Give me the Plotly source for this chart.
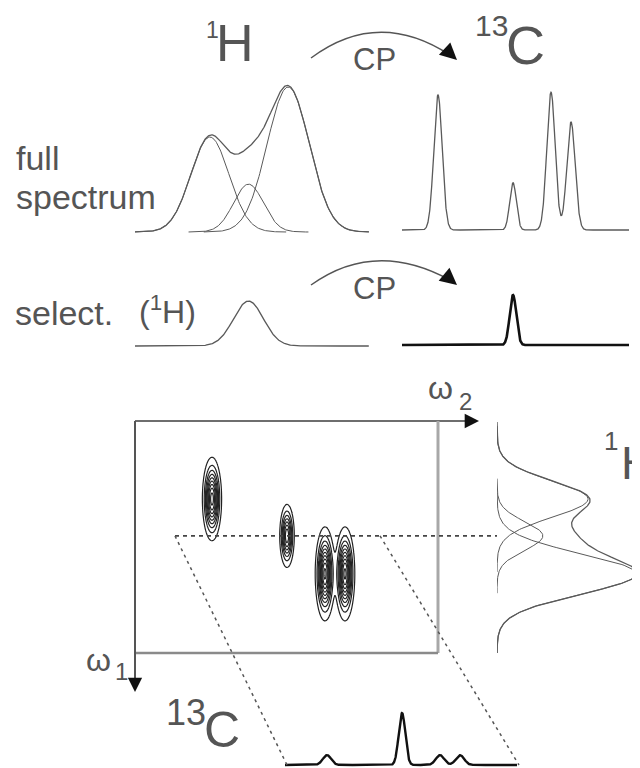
import numpy as np
import plotly.graph_objects as go

# page is 640x768; the html body has an 8px margin, so the figure is placed at (8,8)
PAGE_W, PAGE_H = 640, 768
OFF = 8
FW, FH = PAGE_W - OFF, PAGE_H - OFF

# ---------------- data ----------------
# 1H spectrum: three overlapping lines (arbitrary frequency units)
H_CENTERS = [3.3, 5.0, 6.75]
H_HEIGHTS = [0.655, 0.33, 1.0]
H_SIGMAS = [0.84, 0.66, 0.93]
# 13C spectrum: four lines
C_CENTERS = [3.0, 10.5, 14.3, 16.3]
C_HEIGHTS = [1.0, 0.35, 1.02, 0.80]
C_SIGMAS = [0.42, 0.33, 0.42, 0.42]
# selective experiment: only the 2nd proton line, transferred to the 2nd carbon
SEL_H_INDEX = 1
SEL_H_HEIGHT = 0.31
SEL_C_HEIGHTS = [0.0, 0.37, 0.0, 0.0]
# 2D cross peaks: (13C index, 1H index, amplitude)
CROSS_C = [0, 1, 2, 3]
CROSS_H = [0, 1, 2, 2]
CROSS_AMP = [1.1, 0.9, 1.2, 1.2]
# 13C slice taken at the selected 1H row
SLICE_HEIGHTS = [0.19, 1.0, 0.19, 0.19]


def gauss(x, c, h, s):
    return h * np.exp(-0.5 * ((x - c) / s) ** 2)


def px(x):
    return (x - OFF) / FW


def py(y):
    return 1 - (y - OFF) / FH


def xd(a, b):
    return [px(a), px(b)]


def yd(top, bot):
    return [py(bot), py(top)]


GRAY = "#5a5a5a"
LW = 1.3

fig = go.Figure()

# ---------------- top 1H (full) ----------------
xh = np.linspace(0, 10.3, 500)
h_sum = sum(gauss(xh, c, h, s) for c, h, s in zip(H_CENTERS, H_HEIGHTS, H_SIGMAS))
fig.add_trace(go.Scatter(x=xh, y=h_sum, xaxis="x", yaxis="y", mode="lines",
                         line=dict(color=GRAY, width=LW)))
for c, h, s in zip(H_CENTERS, H_HEIGHTS, H_SIGMAS):
    xx = np.linspace(c - 4 * s, c + 4 * s, 200)
    fig.add_trace(go.Scatter(x=xx, y=gauss(xx, c, h, s), xaxis="x", yaxis="y",
                             mode="lines", line=dict(color=GRAY, width=1.0)))

# ---------------- top 13C (full) ----------------
xc = np.linspace(-0.6, 22.1, 1500)
c_sum = sum(gauss(xc, c, h, s) for c, h, s in zip(C_CENTERS, C_HEIGHTS, C_SIGMAS))
fig.add_trace(go.Scatter(x=xc, y=c_sum, xaxis="x2", yaxis="y2", mode="lines",
                         line=dict(color=GRAY, width=LW)))

# ---------------- selective 1H ----------------
sel_h = gauss(xh, H_CENTERS[SEL_H_INDEX], SEL_H_HEIGHT, H_SIGMAS[SEL_H_INDEX])
fig.add_trace(go.Scatter(x=xh, y=sel_h, xaxis="x", yaxis="y3", mode="lines",
                         line=dict(color=GRAY, width=LW)))

# ---------------- selective 13C ----------------
sel_c = sum(gauss(xc, c, h, s) for c, h, s in zip(C_CENTERS, SEL_C_HEIGHTS, C_SIGMAS))
fig.add_trace(go.Scatter(x=xc, y=sel_c, xaxis="x2", yaxis="y4", mode="lines",
                         line=dict(color="#111", width=2.6)))

# ---------------- 2D contour ----------------
gx = np.linspace(-4.7, 25.6, 400)
gy = np.linspace(-0.3, 10.4, 300)
GX, GY = np.meshgrid(gx, gy)
Z = np.zeros_like(GX)
for ci, hi, a in zip(CROSS_C, CROSS_H, CROSS_AMP):
    Z += a * np.exp(-0.5 * ((GX - C_CENTERS[ci]) / C_SIGMAS[ci]) ** 2
                    - 0.5 * ((GY - H_CENTERS[hi]) / H_SIGMAS[hi]) ** 2)
fig.add_trace(go.Contour(x=gx, y=gy, z=Z, xaxis="x5", yaxis="y5",
                         contours=dict(coloring="lines", start=0.08, end=1.2, size=0.12),
                         colorscale=[[0, "#222"], [1, "#222"]], showscale=False,
                         line=dict(width=1.2)))

# ---------------- 1H projection (rotated) ----------------
yp = np.linspace(-0.25, 10.5, 500)
p_sum = sum(gauss(yp, c, h, s) for c, h, s in zip(H_CENTERS, H_HEIGHTS, H_SIGMAS))
fig.add_trace(go.Scatter(x=p_sum, y=yp, xaxis="x6", yaxis="y5", mode="lines",
                         line=dict(color=GRAY, width=LW)))
for c, h, s in zip(H_CENTERS, H_HEIGHTS, H_SIGMAS):
    yy = np.linspace(c - 4 * s, c + 4 * s, 200)
    fig.add_trace(go.Scatter(x=gauss(yy, c, h, s), y=yy, xaxis="x6", yaxis="y5",
                             mode="lines", line=dict(color=GRAY, width=1.0)))

# ---------------- 13C slice (bottom) ----------------
xs = np.linspace(-1.2, 22.0, 1500)
s_sum = sum(gauss(xs, c, h, s) for c, h, s in zip(C_CENTERS, SLICE_HEIGHTS, C_SIGMAS))
fig.add_trace(go.Scatter(x=xs, y=s_sum, xaxis="x7", yaxis="y7", mode="lines",
                         line=dict(color="#111", width=2.4)))

# ---------------- axes (page-pixel geometry of each panel) ----------------
hid = dict(visible=False, fixedrange=True)
H1_BASE, H1_SCALE = 232, 145
C1_BASE, C1_SCALE = 230, 135
H2_BASE = 346
C2_BASE = 345
ROW0, ROWS = 427.4, 21.7      # 1H axis of 2D plot: pixel = ROW0 + ROWS*u
COL0, COLS = 182, 10          # 13C axis of 2D plot
BOX = (135, 421, 438, 653)    # left, top, right, bottom of the 2D frame
SL_BASE, SL_SCALE = 765, 52
SL0 = 297                     # 13C axis of slice: pixel = SL0 + 10*u
PROJ0, PROJS = 497, 139


def yr(top, bot, base, scale):
    return [-(bot - base) / scale, (base - top) / scale]


fig.update_layout(
    xaxis=dict(domain=xd(135, 369), range=[0, (369 - 135) / 22.7], anchor="y", **hid),
    yaxis=dict(domain=yd(60, 240), range=yr(60, 240, H1_BASE, H1_SCALE), anchor="x", **hid),
    xaxis2=dict(domain=xd(398, 632), range=[(398 - 408) / 10, (632 - 408) / 10], anchor="y2", **hid),
    yaxis2=dict(domain=yd(60, 240), range=yr(60, 240, C1_BASE, C1_SCALE), anchor="x2", **hid),
    yaxis3=dict(domain=yd(280, 356), range=yr(280, 356, H2_BASE, H1_SCALE), anchor="x", **hid),
    yaxis4=dict(domain=yd(280, 356), range=yr(280, 356, C2_BASE, C1_SCALE), anchor="x2", **hid),
    xaxis5=dict(domain=xd(BOX[0], BOX[2]),
                range=[(BOX[0] - COL0) / COLS, (BOX[2] - COL0) / COLS], anchor="y5", **hid),
    yaxis5=dict(domain=yd(BOX[1], BOX[3]),
                range=[(BOX[3] - ROW0) / ROWS, (BOX[1] - ROW0) / ROWS], anchor="x5", **hid),
    xaxis6=dict(domain=xd(PROJ0, 640), range=[0, (640 - PROJ0) / PROJS], anchor="y5", **hid),
    xaxis7=dict(domain=xd(285, 517), range=[(285 - SL0) / 10, (517 - SL0) / 10], anchor="y7", **hid),
    yaxis7=dict(domain=yd(700, 768), range=yr(700, 768, SL_BASE, SL_SCALE), anchor="x7", **hid),
    width=FW, height=FH, margin=dict(l=0, r=0, t=0, b=0),
    paper_bgcolor="white", plot_bgcolor="rgba(0,0,0,0)", showlegend=False,
)

shapes = []


def seg(x0, y0, x1, y1, color="#555", width=2, dash=None):
    d = dict(type="line", xref="paper", yref="paper", x0=px(x0), y0=py(y0),
             x1=px(x1), y1=py(y1), line=dict(color=color, width=width))
    if dash:
        d["line"]["dash"] = dash
    shapes.append(d)


L, T, R, B = BOX
seg(L, T, 472, T, "#6e6e6e", 2)           # top (omega2 axis)
seg(R, T, R, B, "#a8a8a8", 3)             # right side
seg(L, B, R, B, "#8a8a8a", 2.5)           # bottom
seg(L, T, L, 684, "#555", 2)              # left (omega1 axis)

# selected row (dashed) from 2D to projection
row_pix = ROW0 + ROWS * H_CENTERS[SEL_H_INDEX]
shapes.append(dict(type="line", xref="paper", yref="y5", x0=px(175), x1=px(PROJ0),
                   y0=H_CENTERS[SEL_H_INDEX], y1=H_CENTERS[SEL_H_INDEX],
                   line=dict(color="#444", width=1.6, dash="4px,4px")))
# perspective edges down to the slice
seg(175, row_pix, 287, SL_BASE, "#555", 1.5, "3px,4px")
seg(380, row_pix, 519, SL_BASE, "#555", 1.5, "3px,4px")


# CP arrows (curved)
def cp_arrow(x0, y0, cx, cy, x1, y1):
    shapes.append(dict(type="path", xref="paper", yref="paper",
                       path=f"M {px(x0)},{py(y0)} Q {px(cx)},{py(cy)} {px(x1)},{py(y1)}",
                       line=dict(color="#555", width=1.5)))


cp_arrow(311, 58, 378, 8, 450, 55)
cp_arrow(311, 285, 375, 239, 450, 280)
fig.update_layout(shapes=shapes)

ann = []


def text(x, y, s, size, color="#555", xanchor="center", yanchor="middle"):
    ann.append(dict(x=px(x), y=py(y), xref="paper", yref="paper", text=s, showarrow=False,
                    font=dict(family="Liberation Sans", size=size, color=color),
                    xanchor=xanchor, yanchor=yanchor))


def head(x, y, ax, ay, size=1.3, width=2.2, color="#111"):
    ann.append(dict(x=px(x), y=py(y), xref="paper", yref="paper", text="", showarrow=True,
                    ax=ax, ay=ay, arrowhead=2, arrowsize=size, arrowwidth=width,
                    arrowcolor=color, standoff=0))


text(212, 30, "1", 23)
text(235, 43, "H", 52)
text(491, 25, "13", 30)
text(525, 45, "C", 54)
text(374, 60, "CP", 31)
text(374, 288, "CP", 31)
text(14, 158, "full", 34, xanchor="left")
text(14, 197, "spectrum", 34, xanchor="left")
text(13, 313, "select.", 34, xanchor="left")
text(137, 310, "(<sup>1</sup>H)", 32, xanchor="left")
text(440, 388, "ω", 32)
text(465, 401, "2", 24)
text(98, 660, "ω", 32)
text(121, 671, "1", 24)
text(611, 441, "1", 26)
text(619, 463, "H", 46, xanchor="left")
text(186, 712, "13", 36)
text(222, 730, "C", 50)

head(479, T, -14, 0)
head(L, 692, 0, -14)
head(457, 60, -12, -11, 1.4, 2.4)
head(457, 285, -12, -10, 1.4, 2.4)
fig.update_layout(annotations=ann)

fig.write_html("out.html")
